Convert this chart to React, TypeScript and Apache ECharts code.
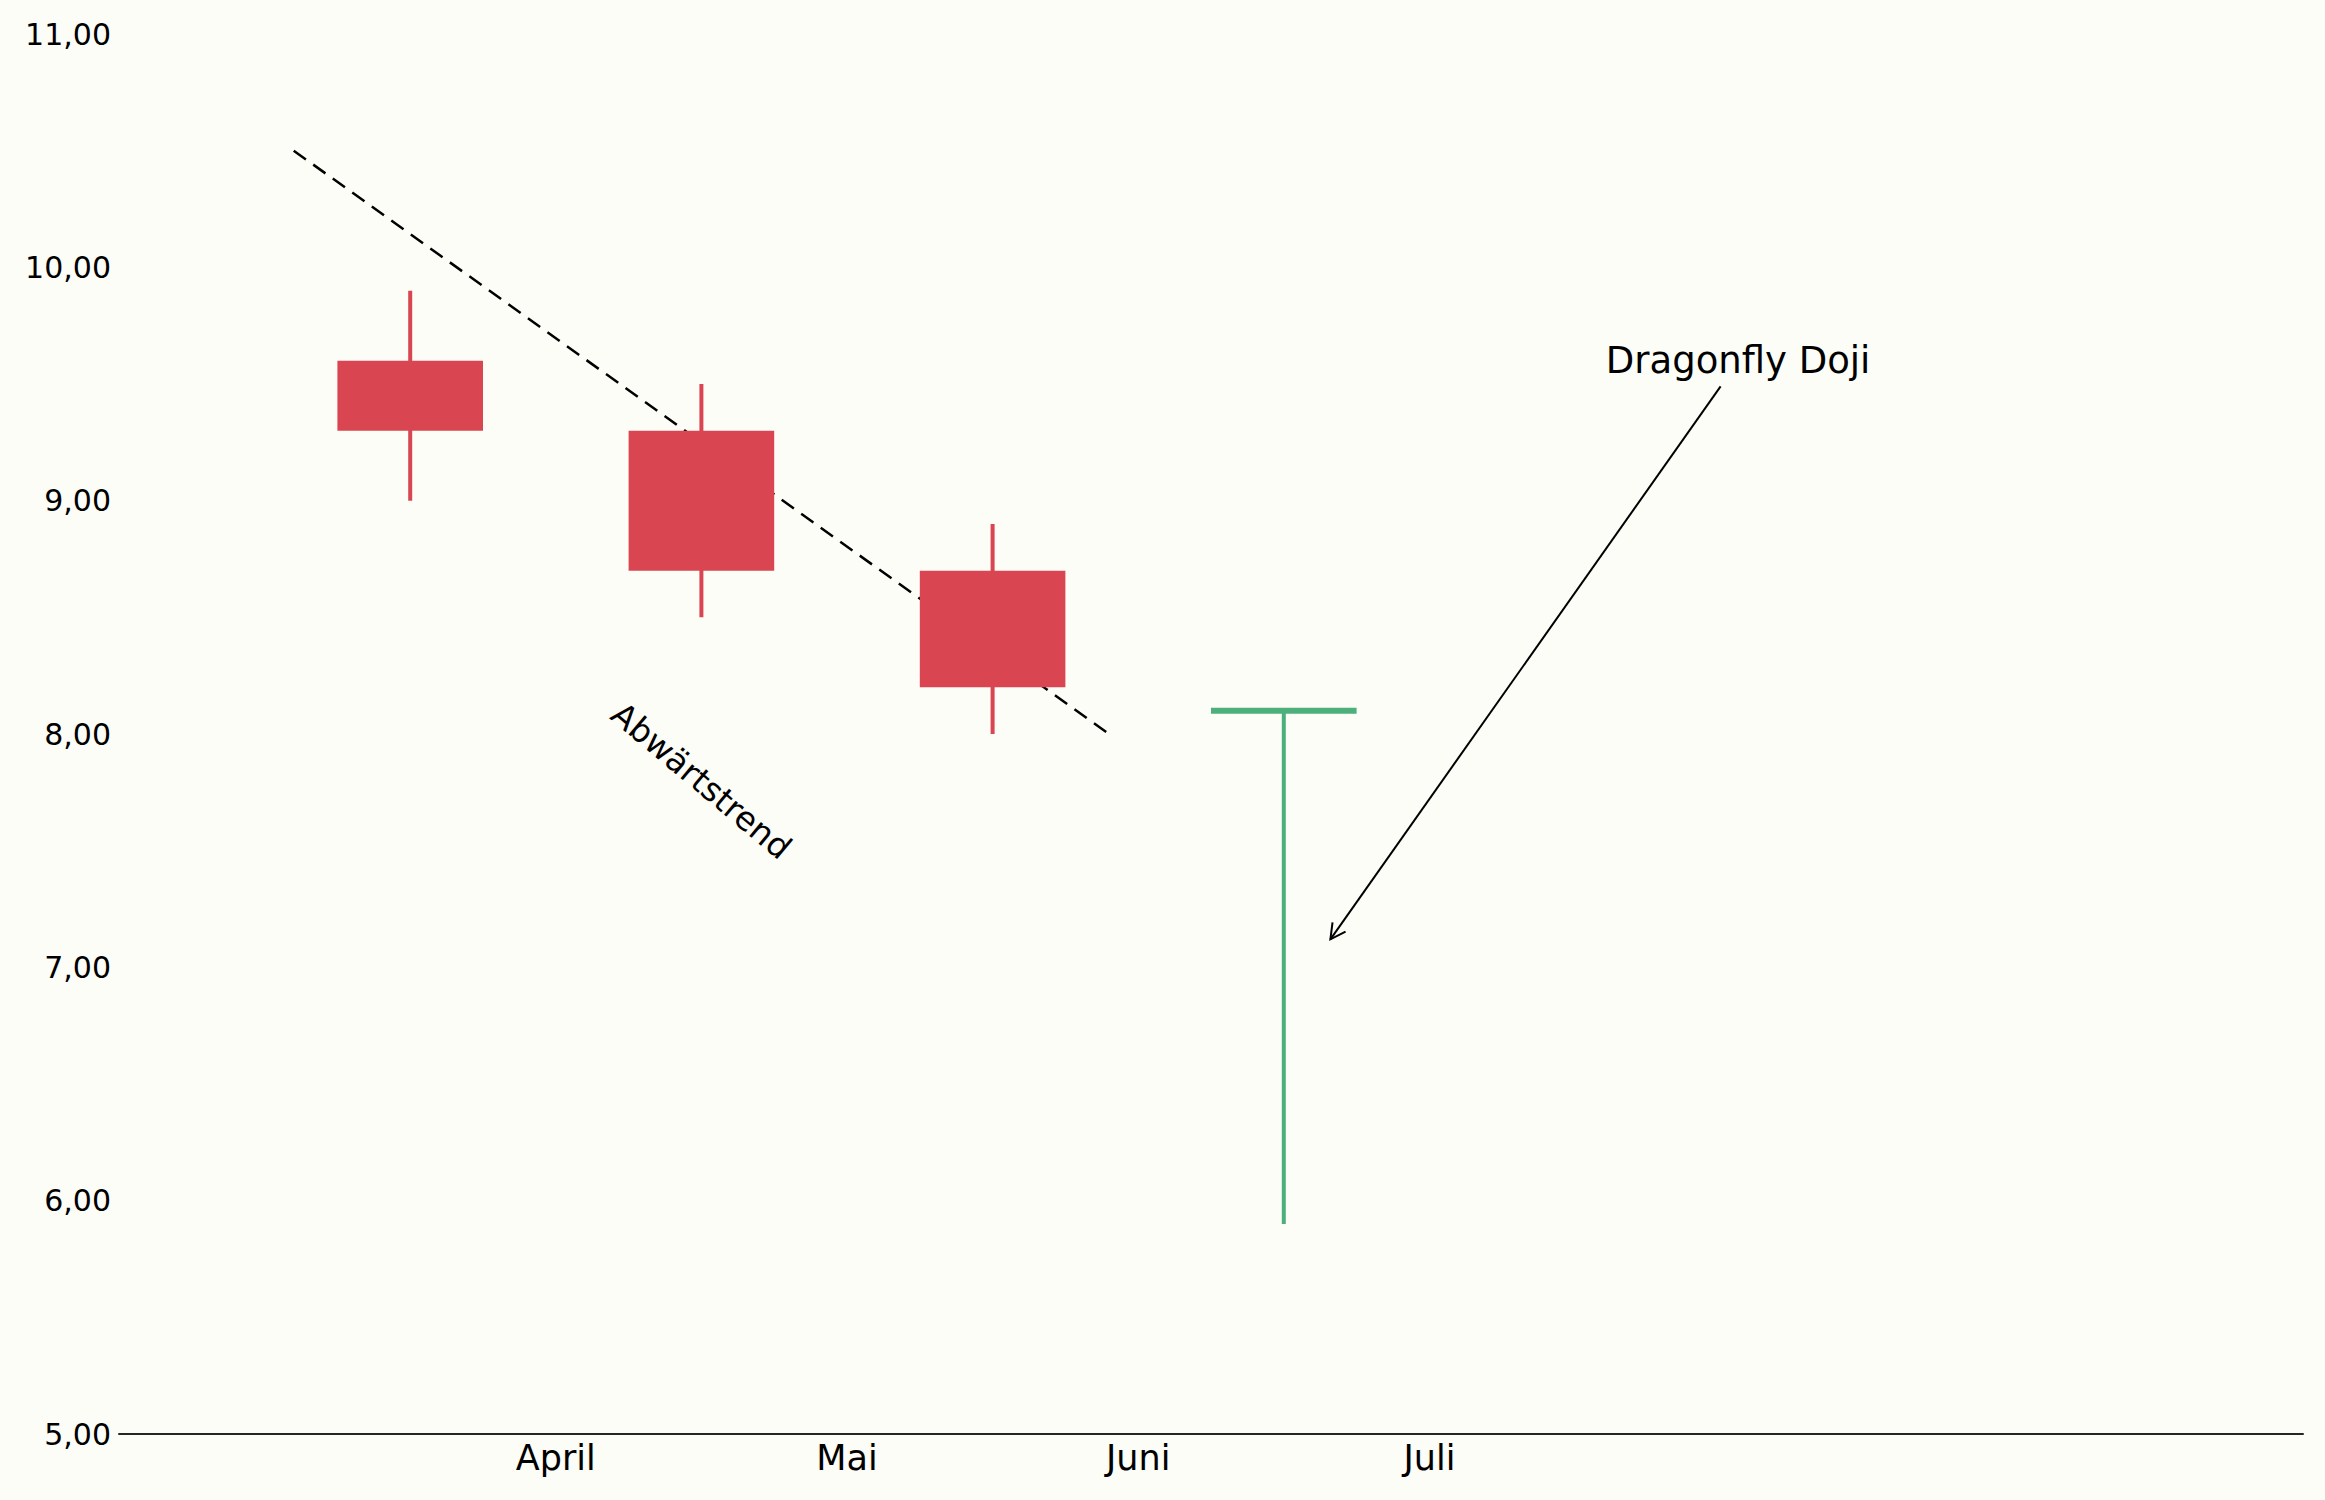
import React, { useEffect, useRef } from "react";
import * as echarts from "echarts";

// ---- data ----
const candleX = [1, 2, 3, 4];
const opens = [9.6, 9.3, 8.7, 8.1];
const closes = [9.3, 8.7, 8.2, 8.1];
const lows = [9.0, 8.5, 8.0, 5.9];
const highs = [9.9, 9.5, 8.9, 8.1];

const monthTicks = [1.5, 2.5, 3.5, 4.5];
const monthLabels = ["April", "Mai", "Juni", "Juli"];

const trendX = [0.6, 3.4];
const trendY = [10.5, 8.0];

const dojiArrowFrom = [5.5, 9.49];
const dojiArrowTo = [4.16, 7.12];
const dojiLabelPos = [5.56, 9.6];
const dojiLabel = "Dragonfly Doji";
const trendLabelPos = [2.0, 7.8];
const trendLabel = "Abwärtstrend";

const Y_MIN = 5;
const Y_MAX = 11;
const X_MIN = 0;
const X_MAX = 7.5;

const RED = "#D94652";
const GREEN = "#4DAF7C";
const FONT = "DejaVu Sans";

export default function App() {
  const ref = useRef<HTMLDivElement>(null);

  useEffect(() => {
    document.body.style.margin = "0";
    if (!ref.current) return;
    const chart = echarts.init(ref.current, undefined, { renderer: "svg" });

    const candleData = candleX.map((x, i) => [x, opens[i], closes[i], lows[i], highs[i]]);

    const option: any = {
      animation: false,
      backgroundColor: "#FDFDF8",
      grid: { left: 119, right: 22, top: 34, bottom: 66 },
      xAxis: {
        type: "value",
        min: X_MIN,
        max: X_MAX,
        axisLine: { show: true, lineStyle: { color: "#262626", width: 2 } },
        axisTick: { show: false },
        splitLine: { show: false },
        axisLabel: {
          customValues: monthTicks,
          formatter: (v: number) => {
            const idx = monthTicks.findIndex((t) => Math.abs(t - v) < 1e-6);
            return idx >= 0 ? monthLabels[idx] : "";
          },
          fontSize: 35,
          lineHeight: 35,
          fontFamily: FONT,
          color: "#000",
          margin: 6,
        },
      },
      yAxis: {
        type: "value",
        min: Y_MIN,
        max: Y_MAX,
        interval: 1,
        axisLine: { show: false },
        axisTick: { show: false },
        splitLine: { show: false },
        axisLabel: {
          formatter: (v: number) => v.toFixed(2).replace(".", ","),
          fontSize: 30,
          fontFamily: FONT,
          color: "#000",
          margin: 8,
        },
      },
      series: [
        {
          type: "line",
          data: trendX.map((x, i) => [x, trendY[i]]),
          showSymbol: false,
          symbol: "none",
          lineStyle: { color: "#000", width: 2.5, type: [15, 9] },
          z: 2,
          silent: true,
        },
        {
          type: "custom",
          z: 3,
          data: candleData,
          encode: { x: 0, y: [1, 2, 3, 4] },
          renderItem: (params: any, api: any) => {
            const x = api.value(0);
            const o = api.value(1);
            const c = api.value(2);
            const l = api.value(3);
            const h = api.value(4);
            const color = c < o ? RED : GREEN;
            const top = api.coord([x, Math.max(o, c)]);
            const bot = api.coord([x, Math.min(o, c)]);
            const hi = api.coord([x, h]);
            const lo = api.coord([x, l]);
            const w = api.size([0.5, 0])[0];
            const children: any[] = [
              {
                type: "line",
                shape: { x1: hi[0], y1: hi[1], x2: lo[0], y2: lo[1] },
                style: { stroke: color, lineWidth: 4 },
              },
            ];
            if (bot[1] - top[1] < 1) {
              children.push({
                type: "line",
                shape: { x1: top[0] - w / 2, y1: top[1], x2: top[0] + w / 2, y2: top[1] },
                style: { stroke: color, lineWidth: 6 },
              });
            } else {
              children.push({
                type: "rect",
                shape: { x: top[0] - w / 2, y: top[1], width: w, height: bot[1] - top[1] },
                style: { fill: color },
              });
            }
            return { type: "group", children };
          },
        },
        {
          type: "custom",
          z: 4,
          silent: true,
          data: [[dojiArrowFrom[0], dojiArrowFrom[1], dojiArrowTo[0], dojiArrowTo[1]]],
          encode: { x: [0, 2], y: [1, 3] },
          renderItem: (params: any, api: any) => {
            const p1 = api.coord([api.value(0), api.value(1)]);
            const p2 = api.coord([api.value(2), api.value(3)]);
            const dx = p1[0] - p2[0];
            const dy = p1[1] - p2[1];
            const len = Math.sqrt(dx * dx + dy * dy);
            const ux = dx / len;
            const uy = dy / len;
            const headLen = 17;
            const ang = (28 * Math.PI) / 180;
            const rot = (a: number) => [
              p2[0] + headLen * (ux * Math.cos(a) - uy * Math.sin(a)),
              p2[1] + headLen * (ux * Math.sin(a) + uy * Math.cos(a)),
            ];
            const dl = api.coord(dojiLabelPos);
            const tl = api.coord(trendLabelPos);
            return {
              type: "group",
              children: [
                {
                  type: "line",
                  shape: { x1: p1[0], y1: p1[1], x2: p2[0], y2: p2[1] },
                  style: { stroke: "#000", lineWidth: 2 },
                },
                {
                  type: "polyline",
                  shape: { points: [rot(ang), [p2[0], p2[1]], rot(-ang)] },
                  style: { stroke: "#000", lineWidth: 2, fill: null },
                },
                {
                  type: "text",
                  x: dl[0],
                  y: dl[1],
                  style: {
                    text: dojiLabel,
                    fontSize: 37,
                    fontFamily: FONT,
                    fill: "#000",
                    align: "center",
                    verticalAlign: "middle",
                  },
                },
                {
                  type: "text",
                  x: tl[0],
                  y: tl[1],
                  rotation: (-40 * Math.PI) / 180,
                  style: {
                    text: trendLabel,
                    fontSize: 33,
                    fontFamily: FONT,
                    fill: "#000",
                    align: "center",
                    verticalAlign: "middle",
                  },
                },
              ],
            };
          },
        },
      ],
    };

    chart.setOption(option);
    return () => chart.dispose();
  }, []);

  return <div ref={ref} style={{ width: 2325, height: 1500 }} />;
}
